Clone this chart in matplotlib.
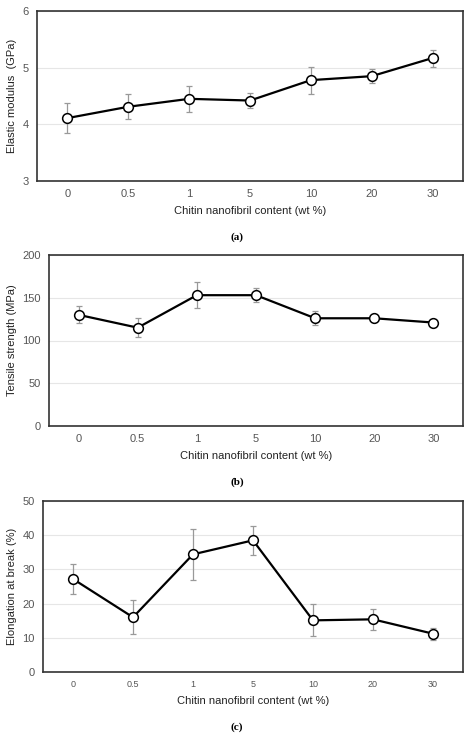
import matplotlib

matplotlib.use("Agg")
import matplotlib.pyplot as plt

plt.rcParams["font.family"] = ["Liberation Sans", "DejaVu Sans"]

CATEGORIES = ["0", "0.5", "1", "5", "10", "20", "30"]

MODULUS = [4.11, 4.31, 4.45, 4.42, 4.78, 4.85, 5.17]
MODULUS_ERR = [0.26, 0.22, 0.23, 0.13, 0.24, 0.12, 0.15]

STRENGTH = [130, 115, 153, 153, 126, 126, 121]
STRENGTH_ERR = [10, 11, 15, 8, 8, 3, 2]

ELONGATION = [27.2, 16.0, 34.4, 38.5, 15.1, 15.4, 11.2]
ELONGATION_ERR = [4.3, 5.0, 7.5, 4.2, 4.7, 3.0, 1.8]

W, H = 474, 738
fig = plt.figure(figsize=(W / 100, H / 100), dpi=100)


def panel(rect, values, errs, ylim, step, ylabel, tag, tag_y, tick_size=8):
    left, top, right, bottom = rect
    ax = fig.add_axes([left / W, 1 - bottom / H, (right - left) / W, (bottom - top) / H])
    x = range(len(CATEGORIES))
    ax.errorbar(x, values, yerr=errs, fmt="none", ecolor="#999999", elinewidth=0.9,
                capsize=2.5, capthick=0.9, zorder=2)
    ax.plot(x, values, color="black", lw=1.6, marker="o", ms=7, mfc="white",
            mec="black", mew=1.1, zorder=3)
    ax.set_xlim(-0.5, len(CATEGORIES) - 0.5)
    ax.set_ylim(*ylim)
    ticks = [ylim[0] + i * step for i in range(int(round((ylim[1] - ylim[0]) / step)) + 1)]
    ax.set_yticks(ticks)
    ax.set_xticks(list(x))
    ax.set_xticklabels(CATEGORIES)
    ax.yaxis.grid(True, color="#e6e6e6", lw=0.8)
    ax.set_axisbelow(True)
    ax.tick_params(length=0, labelsize=tick_size, colors="#555555", pad=6)
    ax.tick_params(axis="y", labelsize=8)
    for s in ax.spines.values():
        s.set_color("#333333")
        s.set_linewidth(1.2)
    ax.set_ylabel(ylabel, fontsize=8, color="#222222", labelpad=4)
    ax.set_xlabel("Chitin nanofibril content (wt %)", fontsize=8, color="#222222", labelpad=5)
    fig.text(0.5, 1 - tag_y / H, tag, ha="center", va="center", fontsize=8,
             family=["Liberation Serif", "DejaVu Serif"], weight="bold")
    return ax


panel((37, 11, 463, 181), MODULUS, MODULUS_ERR, (3, 6), 1, "Elastic modulus  (GPa)", "(a)", 237)
panel((49, 255, 463, 426), STRENGTH, STRENGTH_ERR, (0, 200), 50, "Tensile strength (MPa)", "(b)", 482)
panel((43, 501, 463, 672), ELONGATION, ELONGATION_ERR, (0, 50), 10, "Elongation at break (%)", "(c)", 727,
      tick_size=6.5)

fig.savefig("out.png", dpi=100)
